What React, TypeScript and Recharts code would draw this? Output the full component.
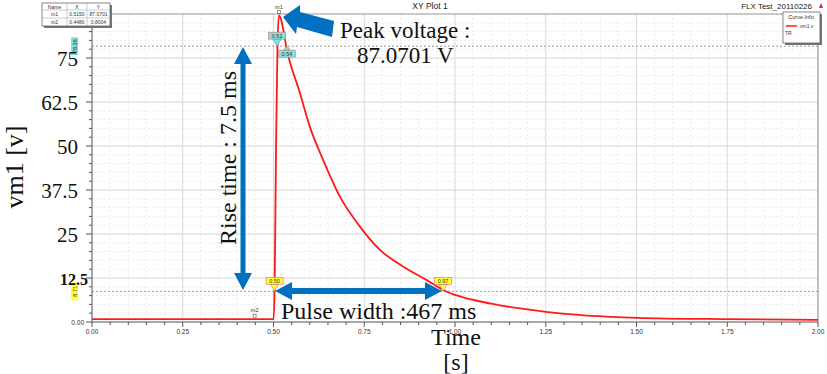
import { LineChart, Line, XAxis, YAxis, CartesianGrid, ReferenceLine, ReferenceDot } from 'recharts';

// vm1 transient (s, V)
const time = [0, 0.448, 0.5, 0.503, 0.507, 0.511, 0.515, 0.541, 0.573, 0.6, 0.637, 0.683, 0.738, 0.793, 0.858, 0.922, 0.977, 1.0, 1.1, 1.25, 1.5, 1.75, 2.0];
const vm1 = [0.8, 0.8, 0.8, 8.7, 50, 78.4, 87.07, 75.4, 65, 55.5, 46, 35.6, 27.1, 20.5, 15.7, 11.9, 8.6, 7.7, 5.2, 2.9, 1.2, 0.8, 0.6];

const xMajor = [0, 0.25, 0.5, 0.75, 1, 1.25, 1.5, 1.75, 2];
const xLabels = ['0.00', '0.25', '0.50', '0.75', '1.00', '1.25', '1.50', '1.75', '2.00'];
const yMajor = [0, 12.5, 25, 37.5, 50, 62.5, 75];
const yLabels = ['0.00', '12.5', '25', '37.5', '50', '62.5', '75'];
const xTicks = Array.from({ length: 41 }, (_, i) => Math.round(i * 5) / 100);
const yTicks = Array.from({ length: 36 }, (_, i) => i * 2.5);

// 10% / 90% levels and crossing markers
const levels = [78.36, 8.71];
const levelLabels = ['78.36', '8.71'];
const levelColors = ['#7fe3e3', '#ffff33'];
const crossTimes = [0.51, 0.537, 0.503, 0.967];
const crossLevels = [78.36, 78.36, 8.71, 8.71];
const crossLabels = ['0.51', '0.54', '0.50', '0.97'];
const crossUp = [false, true, false, false];

// m1 / m2 markers
const markNames = ['m1', 'm2'];
const markX = [0.515, 0.448];
const markY = [87.0701, 0.8004];
const markXText = ['0.5150', '0.4480'];
const markYText = ['87.0701', '0.8004'];

const data = time.map((t, i) => ({ t, v: vm1[i] }));

const BLUE = '#0070c0';
const SERIF = '"Liberation Serif", "Times New Roman", serif';
const SANS = '"Liberation Sans", Arial, sans-serif';

function XTick({ x, y, payload }: any) {
  const i = xMajor.indexOf(payload.value);
  return (
    <g>
      <line x1={x} x2={x} y1={y} y2={y + (i >= 0 ? 5 : 3)} stroke="#555" />
      {i >= 0 && (
        <text x={x} y={y + 12} textAnchor="middle" fontSize={6.5} fontFamily={SANS} fill="#333">
          {xLabels[i]}
        </text>
      )}
    </g>
  );
}

function YTick({ x, y, payload }: any) {
  const i = yMajor.indexOf(payload.value);
  let label = null;
  if (i === 0) {
    label = <text x={x - 8} y={y + 2.5} textAnchor="end" fontSize={6.5} fontFamily={SANS} fill="#333">{yLabels[i]}</text>;
  } else if (i === 1) {
    label = <text x={x - 4} y={y + 7} textAnchor="end" fontSize={16} fontWeight="bold" fontFamily={SERIF} fill="#111">{yLabels[i]}</text>;
  } else if (i > 1) {
    label = <text x={x - 14} y={y + 8} textAnchor="end" fontSize={21} fontFamily={SERIF} fill="#111">{yLabels[i]}</text>;
  }
  return (
    <g>
      <line x1={x} x2={x - (i >= 0 ? 6 : 3)} y1={y} y2={y} stroke="#555" />
      {label}
    </g>
  );
}

function SideTag({ viewBox, text, color }: any) {
  const x = viewBox.x - 21;
  const y = viewBox.y;
  return (
    <g>
      <rect x={x} y={y - 9} width={7} height={18} fill={color} />
      <text transform={`translate(${x + 5.5},${y}) rotate(-90)`} textAnchor="middle" fontSize={5.5} fontFamily={SANS} fill="#333">
        {text}
      </text>
    </g>
  );
}

function CrossFlag({ cx, cy, text, color, up }: any) {
  const boxY = up ? cy + 4 : cy - 14;
  const tri = up
    ? `${cx - 3.5},${cy + 4} ${cx + 3.5},${cy + 4} ${cx},${cy}`
    : `${cx - 4},${cy - 7} ${cx + 4},${cy - 7} ${cx},${cy}`;
  return (
    <g>
      <polygon points={tri} fill={color} stroke="#777" strokeWidth={0.5} />
      <rect x={cx - 8.5} y={boxY} width={17} height={7} fill={color} stroke="#e66" strokeWidth={0.6} />
      <text x={cx} y={boxY + 5.5} textAnchor="middle" fontSize={5.5} fontFamily={SANS} fill="#333">{text}</text>
    </g>
  );
}

function MarkTag({ cx, cy, text }: any) {
  return (
    <g>
      <rect x={cx - 1.5} y={cy - 5} width={3} height={3} fill="none" stroke="#555" strokeWidth={0.6} />
      <text x={cx} y={cy - 7} textAnchor="middle" fontSize={5.5} fontFamily={SANS} fill="#333">{text}</text>
    </g>
  );
}

export default function App() {
  return (
    <div style={{ position: 'absolute', left: 0, top: 0, width: 827, height: 374, background: '#fff' }}>
      <LineChart width={827} height={374} data={data} margin={{ top: 14, right: 9, bottom: 0, left: 0 }}>
        <CartesianGrid verticalValues={xTicks} horizontalValues={yTicks} stroke="#ececec" strokeDasharray="2 2" />
        <CartesianGrid verticalValues={xMajor} horizontalValues={yMajor} stroke="#dcdcdc" />
        <XAxis
          dataKey="t"
          type="number"
          domain={[0, 2]}
          ticks={xTicks}
          interval={0}
          tick={<XTick />}
          tickSize={0}
          tickMargin={0}
          tickLine={false}
          axisLine={{ stroke: '#666' }}
          height={52}
        />
        <YAxis
          type="number"
          domain={[0, 87.5]}
          ticks={yTicks}
          interval={0}
          tick={<YTick />}
          tickSize={0}
          tickMargin={0}
          tickLine={false}
          axisLine={{ stroke: '#666' }}
          width={92}
        />
        <ReferenceLine y={87.5} stroke="#999" />
        <ReferenceLine x={2} stroke="#999" />
        {levels.map((lv, i) => (
          <ReferenceLine
            key={lv}
            y={lv}
            stroke="#999"
            strokeDasharray="2 2"
            label={<SideTag text={levelLabels[i]} color={levelColors[i]} />}
          />
        ))}
        <Line
          type="monotone"
          dataKey="v"
          stroke="#ff1a1a"
          strokeWidth={1.8}
          dot={false}
          isAnimationActive={false}
        />
        {crossTimes.map((t, i) => (
          <ReferenceDot
            key={crossLabels[i] + i}
            x={t}
            y={crossLevels[i]}
            shape={(p: any) => (
              <CrossFlag cx={p.cx} cy={p.cy} text={crossLabels[i]} color={levelColors[i < 2 ? 0 : 1]} up={crossUp[i]} />
            )}
          />
        ))}
        {markNames.map((m, i) => (
          <ReferenceDot key={m} x={markX[i]} y={markY[i]} shape={(p: any) => <MarkTag cx={p.cx} cy={p.cy} text={m} />} />
        ))}
      </LineChart>

      <svg width={827} height={374} style={{ position: 'absolute', left: 0, top: 0, pointerEvents: 'none' }}>
        {/* header */}
        <text x={430} y={9} textAnchor="middle" fontSize={8.5} fontFamily={SANS} fill="#222">XY Plot 1</text>
        <text x={812} y={9} textAnchor="end" fontSize={8} fontFamily={SANS} fill="#222">FLX Test_20110226</text>
        <polygon points="819,8 823,8 821,3" fill="#d22" />

        {/* marker table */}
        <rect x={44} y={5} width={68} height={23} fill="#777" />
        <rect x={42} y={3} width={68} height={23} fill="#fff" stroke="#555" strokeWidth={0.7} />
        <line x1={42} x2={110} y1={10} y2={10} stroke="#999" strokeWidth={0.5} />
        <line x1={42} x2={110} y1={18} y2={18} stroke="#999" strokeWidth={0.5} />
        <line x1={67} x2={67} y1={3} y2={26} stroke="#999" strokeWidth={0.5} />
        <line x1={87} x2={87} y1={3} y2={26} stroke="#999" strokeWidth={0.5} />
        <g fontSize={5} fontFamily={SANS} fill="#333" textAnchor="middle">
          <text x={54.5} y={8.5}>Name</text>
          <text x={77} y={8.5}>X</text>
          <text x={98.5} y={8.5}>Y</text>
          {markNames.map((m, i) => (
            <g key={m}>
              <text x={54.5} y={16 + i * 8}>{m}</text>
              <text x={77} y={16 + i * 8}>{markXText[i]}</text>
              <text x={98.5} y={16 + i * 8}>{markYText[i]}</text>
            </g>
          ))}
        </g>

        {/* curve info */}
        <rect x={785} y={14} width={37} height={31} fill="#777" />
        <rect x={783} y={12} width={37} height={31} fill="#fff" stroke="#555" strokeWidth={0.7} />
        <text x={801} y={19} textAnchor="middle" fontSize={5.5} fontFamily={SANS} fill="#333">Curve Info</text>
        <line x1={786} x2={797} y1={26} y2={26} stroke="#ff1a1a" strokeWidth={1.5} />
        <text x={800} y={28} fontSize={5} fontFamily={SANS} fill="#333">vm1 v</text>
        <text x={785} y={35} fontSize={5} fontFamily={SANS} fill="#333">TR</text>

        {/* axis titles */}
        <text transform="translate(23,167) rotate(-90)" textAnchor="middle" fontSize={26} fontFamily={SERIF} fill="#111">vm1 [v]</text>
        <text x={456} y={345} textAnchor="middle" fontSize={24} fontFamily={SERIF} fill="#111">Time</text>
        <text x={456} y={370} textAnchor="middle" fontSize={24} fontFamily={SERIF} fill="#111">[s]</text>

        {/* peak annotation */}
        <polygon points="283,17 300,5 300,12 334,21 332,37 297,27 296,34" fill={BLUE} />
        <text x={340} y={38} fontSize={23} fontFamily={SERIF} fill="#111">Peak voltage :</text>
        <text x={357} y={63} fontSize={23} fontFamily={SERIF} fill="#111">87.0701 V</text>

        {/* rise time annotation */}
        <polygon points="243,47 252,64 245.5,64 245.5,273 252,273 243,290 234,273 240.5,273 240.5,64 234,64" fill={BLUE} />
        <text transform="translate(236,158) rotate(-90)" textAnchor="middle" fontSize={24} fontFamily={SERIF} fill="#111">Rise time : 7.5 ms</text>

        {/* pulse width annotation */}
        <polygon points="275,291 292,282 292,288 425,288 425,282 442,291 425,300 425,294 292,294 292,300" fill={BLUE} />
        <text x={281} y={319} fontSize={24} fontFamily={SERIF} fill="#111">Pulse width :467 ms</text>
      </svg>
    </div>
  );
}
